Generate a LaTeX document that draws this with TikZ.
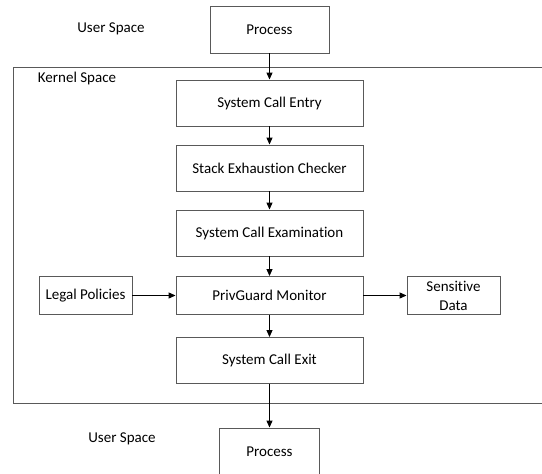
\documentclass[tikz,border=0pt]{standalone}
\usepackage{fontspec}
\setmainfont[Ligatures=NoCommon]{Carlito}
\usetikzlibrary{arrows.meta}
\usetikzlibrary{positioning}

\begin{document}
\begin{tikzpicture}[x=1pt,y=1pt,node distance=65pt,on grid,
        font=\fontsize{15}{19}\selectfont,
        block/.style={draw=black!65,line width=0.9pt,rectangle,minimum width=187pt,minimum height=46pt,inner sep=0pt,align=center},
        side/.style={block,minimum width=93pt,minimum height=38pt},
        flow/.style={-{Triangle[length=7pt,width=6pt]},line width=1.1pt}]
        \useasboundingbox (0,0) rectangle (542,-474);
        \draw[draw=black!65,line width=0.9pt] (13,-67) rectangle (560,-403);
        \node (us_top) at (111,-29) {User Space};
        \node (ks) at (77,-78) {Kernel Space};
        \node (us_bot) at (122,-439) {User Space};
        \node[block, minimum width=119pt, minimum height=47pt] (proc_in) at (269.5,-29.5) {Process};
        \node[block] (entry) [below=73.5pt of proc_in] {System Call Entry};
        \node[block] (stack) [below=of entry] {Stack Exhaustion Checker};
        \node[block] (exam) [below=of stack] {System Call Examination};
        \node[block, minimum height=38pt] (monitor) [below=62.5pt of exam] {PrivGuard Monitor};
        \node[block] (exit) [below=of monitor] {System Call Exit};
        \node[block, minimum width=100pt, minimum height=47pt] (proc_out) [below=91pt of exit] {Process};
        \node[side] (legal) [left=184pt of monitor] {Legal Policies};
        \node[side] (sens) [right=184pt of monitor] {Sensitive\\Data};
        \path[flow]
        (proc_in) edge (entry)
        (entry) edge (stack)
        (stack) edge (exam)
        (exam) edge (monitor)
        (monitor) edge (exit)
        (exit) edge (proc_out)
        (legal) edge (monitor)
        (monitor) edge (sens);
    \end{tikzpicture}
\end{document}
